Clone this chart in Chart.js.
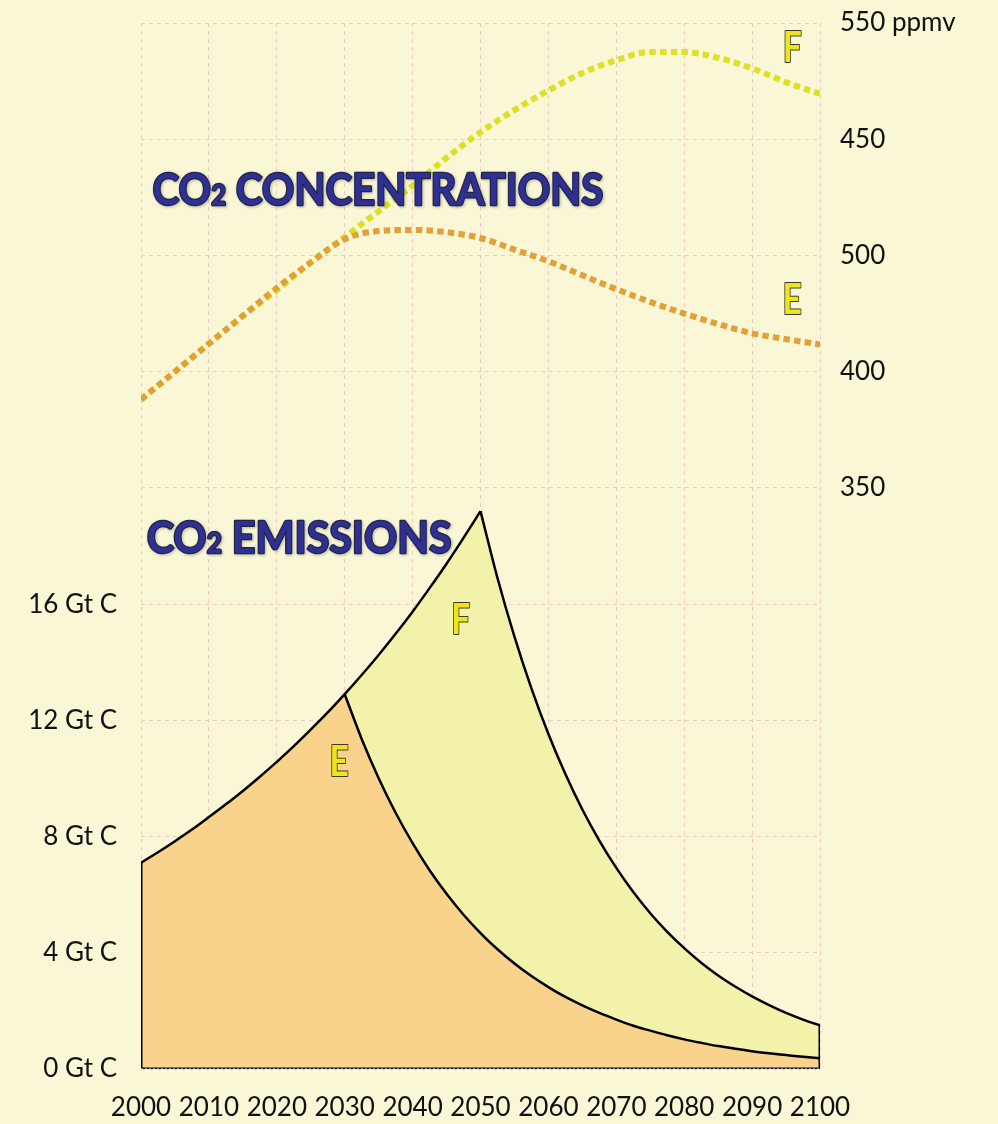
<!DOCTYPE html>
<html>
<head>
<meta charset="utf-8">
<script src="https://cdn.jsdelivr.net/npm/chart.js@4.4.0/dist/chart.umd.min.js"></script>
<style>
  body { margin: 0; background: #f9f7d6; }
</style>
</head>
<body>
<canvas id="myChart" width="998" height="1124"></canvas>
<script>
  // emissions, Gt C (every 2.5 years)
  var emYears = [2000, 2002.5, 2005, 2007.5, 2010, 2012.5, 2015, 2017.5, 2020, 2022.5, 2025, 2027.5, 2030,
    2032.5, 2035, 2037.5, 2040, 2042.5, 2045, 2047.5, 2050, 2052.5, 2055, 2057.5, 2060, 2062.5, 2065, 2067.5,
    2070, 2072.5, 2075, 2077.5, 2080, 2082.5, 2085, 2087.5, 2090, 2092.5, 2095, 2097.5, 2100];
  var emE = [7.1, 7.46, 7.84, 8.24, 8.67, 9.11, 9.57, 10.06, 10.57, 11.11, 11.68, 12.27, 12.9,
    11.36, 10.01, 8.82, 7.77, 6.84, 6.03, 5.31, 4.68, 4.12, 3.63, 3.2, 2.82, 2.48, 2.19, 1.93,
    1.7, 1.49, 1.32, 1.16, 1.02, 0.9, 0.79, 0.7, 0.61, 0.54, 0.48, 0.42, 0.37];
  var emF = [7.1, 7.46, 7.84, 8.24, 8.67, 9.11, 9.57, 10.06, 10.57, 11.11, 11.68, 12.27, 12.9,
    13.56, 14.25, 14.98, 15.74, 16.55, 17.39, 18.28, 19.2, 16.9, 14.88, 13.1, 11.53, 10.15, 8.93, 7.86,
    6.92, 6.09, 5.36, 4.72, 4.16, 3.66, 3.22, 2.84, 2.5, 2.2, 1.93, 1.7, 1.5];
  var peakE = 2030;
  var peakF = 2050;

  // concentrations, ppmv
  var concYears = [2000, 2005, 2010, 2015, 2020, 2025, 2030, 2035, 2040, 2045, 2050, 2055, 2060, 2065, 2070, 2075, 2080, 2085, 2090, 2095, 2100];
  var concF = [388, 400, 412, 424, 435, 447, 458, 469, 480, 492, 503, 512.5, 521, 528.5, 534, 537.5, 537.5, 535, 530.5, 524.5, 519.5];
  var concE = [388, 400, 412, 424, 436, 447, 457, 460.5, 461, 460, 457.5, 452.5, 447.5, 441.5, 435.5, 430, 425, 420.5, 416.5, 414, 411.7];

  var leftTicks = [0, 4, 8, 12, 16];
  var rightTickVals = [350, 400, 450, 500, 550];
  var rightTickText = ["350", "400", "500", "450", "550 ppmv"];

  var titles = [
    { parts: ["CO", "2", " CONCENTRATIONS"], x0: 2001.7, x1: 2068.1, y: 29.74 },
    { parts: ["CO", "2", " EMISSIONS"], x0: 2000.85, x1: 2045.75, y: 17.77 },
  ];
  var letters = [
    { t: "F", x: 2095.9, y: 34.66 },
    { t: "E", x: 2095.9, y: 25.99 },
    { t: "F", x: 2047.1, y: 14.97 },
    { t: "E", x: 2029.2, y: 10.09 },
  ];

  function pts(xs, ys) {
    return xs.map(function (x, i) {
      return { x: x, y: ys[i] };
    });
  }
  // part of a series between two years (inclusive)
  function part(xs, ys, from, to) {
    var out = [];
    xs.forEach(function (x, i) {
      if (x >= from && x <= to) out.push({ x: x, y: ys[i] });
    });
    return out;
  }

  var bg = "#f9f7d6";
  var labelFont = { family: "Lato", size: 26 };
  var firstYear = emYears[0];
  var lastYear = emYears[emYears.length - 1];

  var bgPlugin = {
    id: "bg",
    beforeDraw: function (chart) {
      var c = chart.ctx;
      c.save();
      c.fillStyle = bg;
      c.fillRect(0, 0, chart.width, chart.height);
      c.restore();
    },
  };

  var textPlugin = {
    id: "texts",
    afterDraw: function (chart) {
      var c = chart.ctx;
      var xs = chart.scales.x;
      var ys = chart.scales.y;
      titles.forEach(function (tt) {
        var left = xs.getPixelForValue(tt.x0);
        var right = xs.getPixelForValue(tt.x1);
        var base = ys.getPixelForValue(tt.y);
        var sizes = [44, 28, 44];
        var w = 0;
        tt.parts.forEach(function (p, i) {
          c.font = "bold " + sizes[i] + "px Lato";
          w += c.measureText(p).width;
        });
        c.save();
        c.translate(left, base);
        c.scale((right - left) / w, 1);
        var cx = 0;
        tt.parts.forEach(function (p, i) {
          c.font = "bold " + sizes[i] + "px Lato";
          c.lineJoin = "round";
          c.shadowColor = "rgba(0,0,0,0.3)";
          c.shadowBlur = 3;
          c.shadowOffsetX = 1;
          c.shadowOffsetY = 1;
          c.strokeStyle = "#23234a";
          c.lineWidth = 2.5;
          c.strokeText(p, cx, 0);
          c.shadowColor = "transparent";
          c.fillStyle = "#2e3192";
          c.fillText(p, cx, 0);
          cx += c.measureText(p).width;
        });
        c.restore();
      });
      letters.forEach(function (l) {
        var px = xs.getPixelForValue(l.x);
        var py = ys.getPixelForValue(l.y);
        c.save();
        c.translate(px, py);
        c.scale(0.8, 1);
        c.font = "bold 42px Lato";
        c.textAlign = "center";
        c.lineJoin = "round";
        c.strokeStyle = "#3b3a28";
        c.lineWidth = 2;
        c.strokeText(l.t, 0, 0);
        c.fillStyle = "#f0e51a";
        c.fillText(l.t, 0, 0);
        c.restore();
      });
    },
  };

  var edge = { borderColor: "#000", borderWidth: 3, pointRadius: 0, fill: false, tension: 0, yAxisID: "y" };
  var curve = { borderColor: "#000", borderWidth: 2.5, pointRadius: 0, fill: false, cubicInterpolationMode: "monotone", yAxisID: "y" };
  var area = { borderColor: "transparent", borderWidth: 0, pointRadius: 0, fill: "origin", tension: 0, yAxisID: "y" };
  var dotted = { yAxisID: "y2", borderWidth: 6, borderDash: [6.5, 4.2], borderCapStyle: "butt", pointRadius: 0, fill: false, cubicInterpolationMode: "monotone" };

  var ctx = document.getElementById("myChart").getContext("2d");
  var config = {
    type: "line",
    data: {
      datasets: [
        Object.assign({}, dotted, { data: pts(concYears, concF), borderColor: "#dde126", order: 5 }),
        Object.assign({}, dotted, { data: pts(concYears, concE), borderColor: "#e3a037", order: 4 }),
        Object.assign({}, area, { data: pts(emYears, emF), backgroundColor: "#f3f2ab", order: 12 }),
        Object.assign({}, area, { data: pts(emYears, emE), backgroundColor: "#f9d28c", order: 11 }),
        Object.assign({}, curve, { data: part(emYears, emF, firstYear, peakF), order: 10 }),
        Object.assign({}, curve, { data: part(emYears, emF, peakF, lastYear), order: 10 }),
        Object.assign({}, curve, { data: part(emYears, emE, peakE, lastYear), order: 10 }),
        Object.assign({}, edge, { data: [{ x: firstYear, y: 0 }, { x: firstYear, y: emE[0] }], order: 3 }),
        Object.assign({}, edge, { data: [{ x: lastYear, y: 0 }, { x: lastYear, y: emF[emF.length - 1] }], order: 3 }),
        Object.assign({}, edge, { data: [{ x: firstYear, y: 0 }, { x: lastYear, y: 0 }], order: 2 }),
        { data: [{ x: firstYear, y: 0 }, { x: lastYear, y: 0 }], yAxisID: "y", borderColor: "#ffffff", borderWidth: 1, borderDash: [2, 2], pointRadius: 0, fill: false, order: 1 },
      ],
    },
    options: {
      responsive: false,
      animation: false,
      devicePixelRatio: 1,
      layout: { padding: { top: 23, left: 0, right: 0, bottom: 0 } },
      plugins: { legend: { display: false }, tooltip: { enabled: false } },
      scales: {
        x: {
          type: "linear",
          min: 2000,
          max: 2100,
          grid: { color: "#f0c9c6", lineWidth: 1, drawTicks: false },
          border: { display: false, dash: [4, 4] },
          ticks: { stepSize: 10, color: "#111", font: labelFont, padding: 23, maxRotation: 0, callback: function (v) { return String(v); } },
          afterFit: function (s) { s.height = 55; s.paddingLeft = 0; s.paddingRight = 0; },
        },
        y: {
          type: "linear",
          position: "left",
          min: 0,
          max: 36,
          grid: { color: "#f0c9c6", lineWidth: 1, drawTicks: false },
          border: { display: false, dash: [4, 4] },
          ticks: {
            stepSize: 4,
            color: "#111",
            font: labelFont,
            padding: 24,
            callback: function (v) { return leftTicks.indexOf(v) >= 0 ? v + " Gt C" : ""; },
          },
          afterFit: function (s) { s.width = 141; s.paddingTop = 0; s.paddingBottom = 0; },
        },
        y2: {
          type: "linear",
          position: "right",
          min: 100,
          max: 550,
          grid: { display: false, drawTicks: false },
          border: { display: false },
          ticks: {
            stepSize: 50,
            color: "#111",
            font: labelFont,
            padding: 20,
            callback: function (v) {
              var i = rightTickVals.indexOf(v);
              return i >= 0 ? rightTickText[i] : "";
            },
          },
          afterFit: function (s) { s.width = 178; s.paddingTop = 0; s.paddingBottom = 0; },
        },
      },
    },
    plugins: [bgPlugin, textPlugin],
  };
  var myChart = new Chart(ctx, config);
</script>
</body>
</html>
